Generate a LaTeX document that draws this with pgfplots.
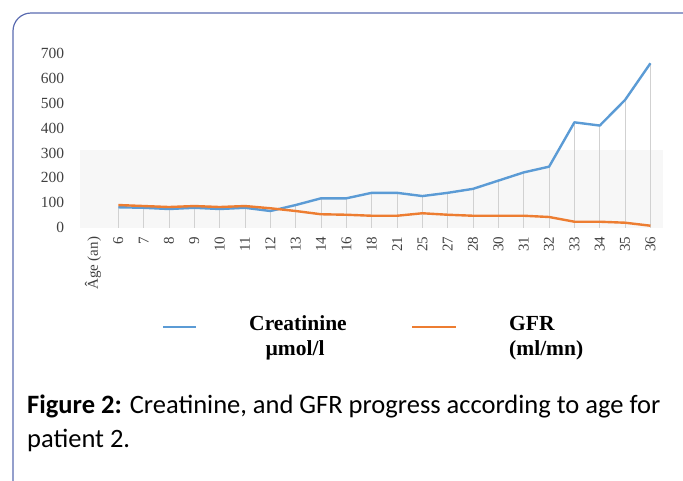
\documentclass[border=0pt]{standalone}
\usepackage{pgfplots}
\pgfplotsset{compat=1.18}
\usepackage{fontspec}
\setmainfont{Liberation Serif}
\newfontfamily\capfont{Carlito}
\definecolor{creat}{HTML}{5B9BD5}
\definecolor{gfr}{HTML}{ED7D31}
\definecolor{framec}{HTML}{5A6BB0}
\definecolor{ticktext}{HTML}{404040}
\pgfplotstableread{
idx age creat gfr
1 6 82 91
2 7 80 87
3 8 75 83
4 9 80 87
5 10 75 83
6 11 80 87
7 12 67 78
8 13 91 67
9 14 118 54
10 16 118 52
11 18 140 48
12 21 140 48
13 25 127 58
14 27 140 52
15 28 156 48
16 30 189 48
17 31 222 48
18 32 245 43
19 33 423 24
20 34 410 24
21 35 513 20
22 36 660 8
}\datatable
\begin{document}
\begin{tikzpicture}
\path[use as bounding box] (0pt,0pt) rectangle (683pt,-480pt);
\draw[framec, line width=1.2pt, rounded corners=18pt] (13pt,-13pt) rectangle (700pt,-530pt);
\begin{axis}[
  at={(80.3pt,-227.7pt)}, anchor=south west,
  width=582.8pt, height=174.4pt, scale only axis,
  xmin=-0.5, xmax=22.5, ymin=0, ymax=700,
  separate axis lines,
  axis x line*=bottom, axis y line*=left,
  x axis line style={-, draw=black!18, line width=0.8pt},
  y axis line style={draw=none},
  major tick length=0pt,
  xtick={0,...,22},
  xticklabels={Âge (an),6,7,8,9,10,11,12,13,14,16,18,21,25,27,28,30,31,32,33,34,35,36},
  xticklabel shift=9pt,
  x tick label style={rotate=90, anchor=east, inner sep=0pt, font=\fontsize{15}{15}\selectfont, text=ticktext},
  ytick={0,100,...,700},
  y tick label style={anchor=east, inner sep=0pt, xshift=-16pt, font=\fontsize{15.5}{15.5}\selectfont, text=ticktext},
  /pgf/number format/assume math mode=true,
  clip=false,
]
\fill[black!3] (axis cs:-0.5,0) rectangle (axis cs:22.5,310);
\addplot[ycomb, black!18, line width=0.6pt] table[x=idx, y=creat] {\datatable};
\addplot[creat, line width=2.4pt, line join=round] table[x=idx, y=creat] {\datatable};
\addplot[gfr, line width=2.4pt, line join=round] table[x=idx, y=gfr] {\datatable};
\end{axis}
% legend
\draw[creat, line width=2pt] (163pt,-327pt) -- (196pt,-327pt);
\draw[gfr, line width=2pt] (412pt,-327pt) -- (456pt,-327pt);
\node[anchor=base, inner sep=0pt, font=\bfseries\fontsize{21.5}{26}\selectfont] at (298pt,-330pt) {Creatinine};
\node[anchor=base, inner sep=0pt, font=\bfseries\fontsize{21.5}{26}\selectfont] at (295pt,-355pt) {µmol/l};
\node[anchor=base west, inner sep=0pt, font=\bfseries\fontsize{21.5}{26}\selectfont] at (509pt,-330pt) {GFR};
\node[anchor=base west, inner sep=0pt, font=\bfseries\fontsize{21.5}{26}\selectfont] at (509pt,-355pt) {(ml/mn)};
% caption
\node[anchor=base west, inner sep=0pt, font=\capfont\fontsize{26.5}{30}\selectfont] at (27pt,-413pt) {\textbf{Figure 2:} Creatinine, and GFR progress according to age for};
\node[anchor=base west, inner sep=0pt, font=\capfont\fontsize{26.5}{30}\selectfont] at (27pt,-447pt) {patient 2.};
\end{tikzpicture}
\end{document}
